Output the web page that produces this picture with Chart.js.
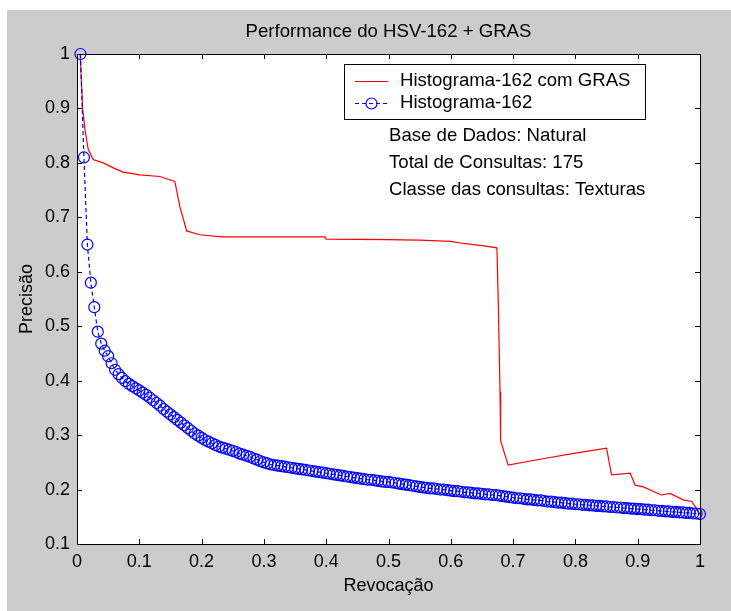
<!DOCTYPE html>
<html>
<head>
<meta charset="utf-8">
<title>Performance do HSV-162 + GRAS</title>
<script src="https://cdn.jsdelivr.net/npm/chart.js@4.4.1/dist/chart.umd.min.js"></script>
<style>
	body { margin: 0; background: #ffffff; }
	canvas { display: block; }
</style>
</head>
<body>
<canvas id="grafico" width="731" height="611"></canvas>
<script>

var titulo = "Performance do HSV-162 + GRAS";
var nomeX = "Revocação";
var nomeY = "Precisão";
var nomes = ["Histograma-162 com GRAS", "Histograma-162"];
var notas = ["Base de Dados: Natural", "Total de Consultas: 175", "Classe das consultas: Texturas"];

// curva vermelha (com GRAS): revocacao / precisao
var gras_rev = [0.005, 0.0075, 0.009, 0.013, 0.018, 0.026, 0.042, 0.06, 0.074, 0.101, 0.133, 0.157, 0.165, 0.176, 0.197, 0.232, 0.398, 0.40, 0.5, 0.55, 0.6, 0.62, 0.65, 0.674, 0.676, 0.679, 0.68, 0.692, 0.75, 0.8, 0.85, 0.858, 0.888, 0.896, 0.909, 0.938, 0.952, 0.973, 0.987, 0.997, 1.0];
var gras_prec = [1.0, 0.94, 0.90, 0.86, 0.825, 0.806, 0.80, 0.79, 0.783, 0.778, 0.775, 0.766, 0.72, 0.675, 0.668, 0.664, 0.664, 0.660, 0.659, 0.658, 0.656, 0.652, 0.648, 0.644, 0.555, 0.38, 0.29, 0.245, 0.257, 0.267, 0.276, 0.227, 0.23, 0.208, 0.205, 0.19, 0.193, 0.181, 0.178, 0.16, 0.155];

// curva azul (sem GRAS): precisao em cada nivel de revocacao (1/180 ... 180/180)
var hist_prec = [
	1.0, 0.81, 0.65, 0.58, 0.535, 0.49, 0.468, 0.455, 0.445, 0.432,
	0.42, 0.412, 0.405, 0.399, 0.394, 0.39, 0.386, 0.382, 0.378, 0.374,
	0.369, 0.364, 0.359, 0.354, 0.348, 0.343, 0.338, 0.333, 0.328, 0.323,
	0.318, 0.313, 0.308, 0.303, 0.299, 0.295, 0.291, 0.288, 0.285, 0.282,
	0.279, 0.277, 0.275, 0.273, 0.271, 0.269, 0.266, 0.264, 0.262, 0.26,
	0.257, 0.255, 0.252, 0.25, 0.248, 0.246, 0.245, 0.244, 0.243, 0.242,
	0.241, 0.24, 0.239, 0.238, 0.237, 0.236, 0.235, 0.234, 0.233, 0.232,
	0.231, 0.23, 0.229, 0.228, 0.227, 0.226, 0.225, 0.224, 0.223, 0.222,
	0.221, 0.22, 0.219, 0.218, 0.218, 0.217, 0.216, 0.215, 0.214, 0.214,
	0.213, 0.212, 0.211, 0.21, 0.209, 0.208, 0.207, 0.206, 0.205, 0.204,
	0.203, 0.202, 0.202, 0.201, 0.2, 0.2, 0.199, 0.198, 0.197, 0.197,
	0.196, 0.195, 0.195, 0.194, 0.193, 0.193, 0.192, 0.191, 0.191, 0.19,
	0.19, 0.189, 0.188, 0.187, 0.186, 0.185, 0.184, 0.184, 0.183, 0.182,
	0.182, 0.181, 0.18, 0.18, 0.179, 0.178, 0.178, 0.177, 0.176, 0.176,
	0.175, 0.174, 0.174, 0.173, 0.173, 0.172, 0.172, 0.171, 0.171, 0.17,
	0.17, 0.169, 0.169, 0.168, 0.168, 0.167, 0.167, 0.166, 0.166, 0.165,
	0.165, 0.164, 0.164, 0.163, 0.163, 0.162, 0.162, 0.161, 0.161, 0.16,
	0.16, 0.159, 0.159, 0.158, 0.158, 0.157, 0.157, 0.156, 0.156, 0.155
];

var fonte = "'Liberation Sans', Arial, sans-serif";
var cinza = "#cccccc";

var pontosGras = [];
for (var i = 0; i < gras_rev.length; i++)
{
	pontosGras.push({x: gras_rev[i], y: gras_prec[i]});
}
var pontosHist = [];
for (var i = 0; i < hist_prec.length; i++)
{
	pontosHist.push({x: (i + 1) / hist_prec.length, y: hist_prec[i]});
}

// rotulos como no matlab: 0, 0.1, ... 1
function rotulo(v)
{
	return String(Number(v.toFixed(1)));
}

// fundo cinza, area branca, moldura e marcas para dentro (estilo matlab)
var estiloMatlab = {
	id: "estiloMatlab",
	beforeDraw: function(chart)
	{
		var ctx = chart.ctx;
		var a = chart.chartArea;
		ctx.save();
		ctx.fillStyle = "#ffffff";
		ctx.fillRect(0, 0, chart.width, chart.height);
		ctx.fillStyle = cinza;
		ctx.fillRect(7, 10, chart.width - 7, chart.height - 10);
		ctx.fillStyle = "#ffffff";
		ctx.fillRect(a.left, a.top, a.right - a.left, a.bottom - a.top);
		ctx.restore();
	},
	afterDatasetsDraw: function(chart)
	{
		var ctx = chart.ctx;
		var a = chart.chartArea;
		var sx = chart.scales.x;
		var sy = chart.scales.y;
		ctx.save();
		ctx.strokeStyle = "#000000";
		ctx.lineWidth = 1;
		ctx.beginPath();
		sx.ticks.forEach(function(t)
		{
			var px = Math.round(sx.getPixelForValue(t.value)) + 0.5;
			ctx.moveTo(px, a.bottom);
			ctx.lineTo(px, a.bottom - 5);
			ctx.moveTo(px, a.top);
			ctx.lineTo(px, a.top + 5);
		});
		sy.ticks.forEach(function(t)
		{
			var py = Math.round(sy.getPixelForValue(t.value)) + 0.5;
			ctx.moveTo(a.left, py);
			ctx.lineTo(a.left + 5, py);
			ctx.moveTo(a.right, py);
			ctx.lineTo(a.right - 5, py);
		});
		ctx.stroke();
		ctx.strokeRect(Math.round(a.left) + 0.5, Math.round(a.top) + 0.5, Math.round(a.right - a.left), Math.round(a.bottom - a.top));
		ctx.restore();
	},
	afterDraw: function(chart)
	{
		var ctx = chart.ctx;
		var a = chart.chartArea;
		ctx.save();
		ctx.fillStyle = "#000000";
		ctx.font = "18.6px " + fonte;
		ctx.textBaseline = "middle";
		ctx.textAlign = "center";
		ctx.fillText(titulo, (a.left + a.right) / 2, 32);

		// caixa da legenda
		ctx.fillStyle = "#ffffff";
		ctx.fillRect(344, 64, 301, 55);
		ctx.strokeStyle = "#000000";
		ctx.lineWidth = 1;
		ctx.strokeRect(344.5, 64.5, 301, 55);

		ctx.strokeStyle = "#ff0000";
		ctx.lineWidth = 1.2;
		ctx.beginPath();
		ctx.moveTo(355, 81.5);
		ctx.lineTo(388, 81.5);
		ctx.stroke();

		ctx.strokeStyle = "#0000ff";
		ctx.setLineDash([4, 3]);
		ctx.beginPath();
		ctx.moveTo(355, 103.5);
		ctx.lineTo(388, 103.5);
		ctx.stroke();
		ctx.setLineDash([]);
		ctx.beginPath();
		ctx.arc(371.5, 103.5, 5.5, 0, Math.PI * 2);
		ctx.stroke();

		ctx.fillStyle = "#000000";
		ctx.textAlign = "left";
		ctx.fillText(nomes[0], 400, 81);
		ctx.fillText(nomes[1], 400, 103);

		ctx.fillText(notas[0], 389, 136);
		ctx.fillText(notas[1], 389, 163);
		ctx.fillText(notas[2], 389, 190);
		ctx.restore();
	}
};

new Chart("grafico", {
	type: "line",
	data: {
		datasets: [
		{
			label: nomes[0],
			data: pontosGras,
			borderColor: "#ff0000",
			borderWidth: 1.2,
			pointRadius: 0,
			tension: 0,
			clip: false,
			order: 2
		},
		{
			label: nomes[1],
			data: pontosHist,
			borderColor: "#0000ff",
			borderWidth: 1.2,
			borderDash: [4, 3],
			pointRadius: 5.5,
			pointStyle: "circle",
			pointBorderColor: "#0000ff",
			pointBackgroundColor: "rgba(0,0,0,0)",
			pointBorderWidth: 1.2,
			tension: 0,
			clip: false,
			order: 1
		}]
	},
	options: {
		responsive: false,
		animation: false,
		events: [],
		layout: { padding: { left: 0, right: 31, top: 54, bottom: 0 } },
		plugins: {
			legend: { display: false },
			tooltip: { enabled: false },
			title: { display: false }
		},
		scales: {
			x: {
				type: "linear",
				min: 0,
				max: 1,
				afterFit: function(s) { s.height = 67; },
				grid: { display: false, drawTicks: false },
				border: { display: true, color: "#000000", width: 1 },
				ticks: {
					stepSize: 0.1,
					padding: 7,
					color: "#000000",
					maxRotation: 0,
					font: { family: fonte, size: 18 },
					callback: rotulo
				},
				title: {
					display: true,
					text: nomeX,
					color: "#000000",
					font: { family: fonte, size: 18 },
					padding: { top: 0, bottom: 14 }
				}
			},
			y: {
				type: "linear",
				min: 0.1,
				max: 1,
				afterFit: function(s) { s.width = 77; },
				grid: { display: false, drawTicks: false },
				border: { display: true, color: "#000000", width: 1 },
				ticks: {
					stepSize: 0.1,
					padding: 7,
					color: "#000000",
					font: { family: fonte, size: 18 },
					callback: rotulo
				},
				title: {
					display: true,
					text: nomeY,
					color: "#000000",
					font: { family: fonte, size: 18 },
					padding: { top: 16, bottom: 0 }
				}
			}
		}
	},
	plugins: [estiloMatlab]
});
</script>
</body>
</html>
